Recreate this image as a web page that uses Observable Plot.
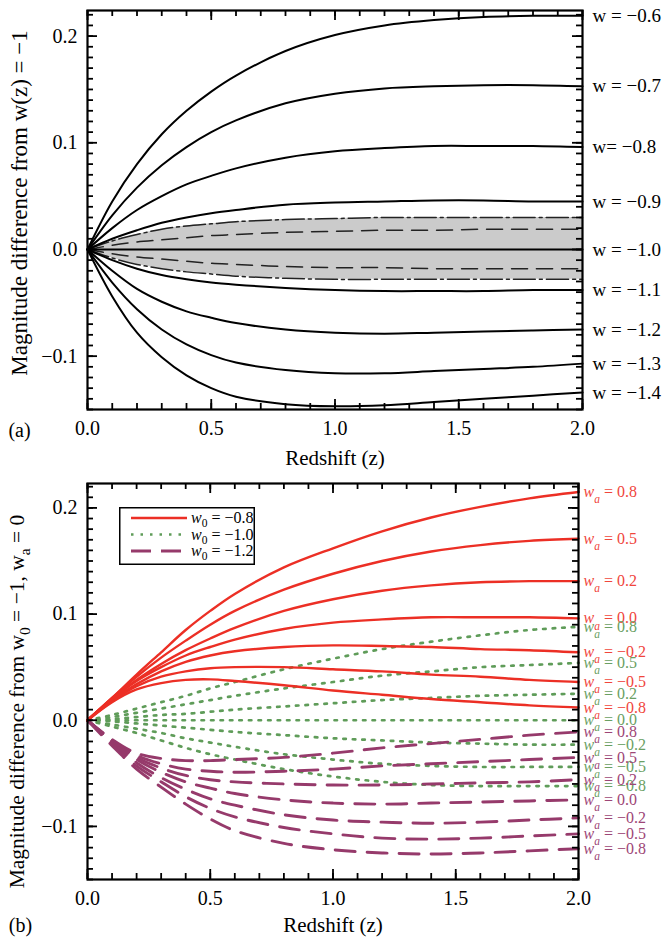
<!DOCTYPE html>
<html>
<head>
<meta charset="utf-8">
<script src="https://cdn.jsdelivr.net/npm/d3@7"></script>
<script src="https://cdn.jsdelivr.net/npm/@observablehq/plot@0.6"></script>
<style>
  body { margin: 0; background: #fff; }
  #wrap { position: relative; width: 665px; height: 938px; background: #fff; font-family: "Liberation Serif", serif; }
  #wrap svg { display: block; }
  #legend { position: absolute; left: 119px; top: 507px; }
</style>
</head>
<body>
<div id="wrap"></div>
<script>
// ---------------- shared ----------------
const redshift = [0, 0.1, 0.2, 0.3, 0.4, 0.5, 0.6, 0.8, 1.0, 1.2, 1.4, 1.6, 1.8, 2.0];
const xMajorTicks = [0, 0.5, 1.0, 1.5, 2.0];
const yMajorTicks = [-0.1, 0.0, 0.1, 0.2];

// ---------------- panel (a): constant w ----------------
const labelsA = ["w = −0.6", "w = −0.7", "w= −0.8", "w = −0.9", "w = −1.0", "w = −1.1", "w = −1.2", "w = −1.3", "w = −1.4"];
const wm06 = [0, 0.045, 0.080, 0.108, 0.130, 0.148, 0.163, 0.186, 0.201, 0.210, 0.215, 0.218, 0.219, 0.219];
const wm07 = [0, 0.032, 0.058, 0.079, 0.096, 0.110, 0.121, 0.137, 0.146, 0.151, 0.153, 0.154, 0.154, 0.153];
const wm08 = [0, 0.020, 0.037, 0.050, 0.061, 0.069, 0.076, 0.086, 0.092, 0.095, 0.097, 0.097, 0.097, 0.096];
const wm09 = [0, 0.010, 0.018, 0.025, 0.030, 0.034, 0.037, 0.042, 0.044, 0.045, 0.046, 0.046, 0.045, 0.045];
const wm10 = [0, 0, 0, 0, 0, 0, 0, 0, 0, 0, 0, 0, 0, 0];
const wm11 = [0, -0.010, -0.018, -0.024, -0.028, -0.031, -0.033, -0.036, -0.038, -0.039, -0.039, -0.039, -0.038, -0.038];
const wm12 = [0, -0.020, -0.037, -0.049, -0.058, -0.064, -0.069, -0.075, -0.078, -0.079, -0.078, -0.077, -0.076, -0.075];
const wm13 = [0, -0.031, -0.056, -0.075, -0.089, -0.099, -0.106, -0.113, -0.116, -0.116, -0.114, -0.112, -0.110, -0.107];
const wm14 = [0, -0.044, -0.078, -0.101, -0.118, -0.130, -0.138, -0.145, -0.147, -0.146, -0.143, -0.140, -0.137, -0.134];
const seriesA = [wm06, wm07, wm08, wm09, wm10, wm11, wm12, wm13, wm14];

// shaded uncertainty band (dash-dot outer edges, dashed inner lines)
const bandOuterHi = [0, 0.008, 0.014, 0.019, 0.022, 0.024, 0.026, 0.028, 0.029, 0.030, 0.030, 0.030, 0.030, 0.030];
const bandOuterLo = [0, -0.008, -0.014, -0.018, -0.021, -0.023, -0.025, -0.027, -0.028, -0.028, -0.028, -0.028, -0.028, -0.028];
const bandInnerHi = [0, 0.004, 0.007, 0.009, 0.011, 0.013, 0.014, 0.016, 0.017, 0.018, 0.018, 0.019, 0.019, 0.019];
const bandInnerLo = [0, -0.004, -0.007, -0.009, -0.011, -0.013, -0.014, -0.016, -0.017, -0.017, -0.018, -0.018, -0.018, -0.018];

// ---------------- panel (b): w0 / wa ----------------
const waLabels = ["0.8", "0.5", "0.2", "0.0", "−0.2", "−0.5", "−0.8"];
const legendLabels = ["−0.8", "−1.0", "−1.2"];
// w0 = -0.8 (red, solid)
const red08  = [0, 0.021, 0.043, 0.064, 0.085, 0.103, 0.119, 0.144, 0.162, 0.178, 0.191, 0.201, 0.209, 0.215];
const red05  = [0, 0.021, 0.041, 0.059, 0.075, 0.090, 0.103, 0.123, 0.138, 0.150, 0.159, 0.165, 0.169, 0.171];
const red02  = [0, 0.020, 0.038, 0.053, 0.066, 0.077, 0.087, 0.103, 0.114, 0.122, 0.127, 0.130, 0.131, 0.131];
const red00  = [0, 0.020, 0.037, 0.050, 0.061, 0.069, 0.076, 0.086, 0.092, 0.095, 0.097, 0.097, 0.097, 0.096];
const redm02 = [0, 0.019, 0.034, 0.046, 0.055, 0.061, 0.065, 0.069, 0.0705, 0.070, 0.069, 0.067, 0.066, 0.064];
const redm05 = [0, 0.018, 0.032, 0.041, 0.046, 0.049, 0.050, 0.050, 0.048, 0.046, 0.043, 0.041, 0.038, 0.036];
const redm08 = [0, 0.017, 0.029, 0.035, 0.038, 0.0385, 0.037, 0.033, 0.028, 0.024, 0.020, 0.017, 0.014, 0.012];
// w0 = -1.0 (green, dotted)
const grn08  = [0, 0.005, 0.011, 0.017, 0.023, 0.030, 0.036, 0.048, 0.058, 0.067, 0.074, 0.080, 0.085, 0.088];
const grn05  = [0, 0.003, 0.007, 0.011, 0.015, 0.019, 0.023, 0.030, 0.036, 0.042, 0.046, 0.050, 0.052, 0.054];
const grn02  = [0, 0.001, 0.003, 0.005, 0.006, 0.008, 0.010, 0.013, 0.016, 0.019, 0.021, 0.023, 0.024, 0.025];
const grn00  = [0, 0, 0, 0, 0, 0, 0, 0, 0, 0, 0, 0, 0, 0];
const grnm02 = [0, -0.001, -0.003, -0.005, -0.007, -0.009, -0.011, -0.014, -0.017, -0.019, -0.021, -0.022, -0.023, -0.023];
const grnm05 = [0, -0.004, -0.008, -0.012, -0.017, -0.021, -0.025, -0.032, -0.037, -0.041, -0.043, -0.044, -0.044, -0.044];
const grnm08 = [0, -0.006, -0.012, -0.019, -0.026, -0.032, -0.037, -0.046, -0.053, -0.058, -0.061, -0.062, -0.062, -0.062];
// w0 = -1.2 (purple, dashed)
const pur08  = [0, -0.018, -0.031, -0.036, -0.038, -0.038, -0.037, -0.035, -0.031, -0.026, -0.022, -0.018, -0.014, -0.011];
const pur05  = [0, -0.019, -0.033, -0.041, -0.046, -0.048, -0.049, -0.048, -0.046, -0.043, -0.041, -0.039, -0.037, -0.035];
const pur02  = [0, -0.019, -0.035, -0.045, -0.052, -0.056, -0.058, -0.060, -0.061, -0.061, -0.060, -0.059, -0.058, -0.056];
const pur00  = [0, -0.020, -0.037, -0.049, -0.058, -0.064, -0.069, -0.075, -0.078, -0.079, -0.078, -0.077, -0.076, -0.075];
const purm02 = [0, -0.021, -0.040, -0.054, -0.065, -0.074, -0.080, -0.089, -0.094, -0.096, -0.097, -0.096, -0.094, -0.092];
const purm05 = [0, -0.022, -0.043, -0.058, -0.072, -0.083, -0.091, -0.101, -0.107, -0.111, -0.112, -0.111, -0.109, -0.107];
const purm08 = [0, -0.024, -0.046, -0.063, -0.079, -0.093, -0.104, -0.116, -0.122, -0.125, -0.126, -0.125, -0.123, -0.121];

const redSeries = [red08, red05, red02, red00, redm02, redm05, redm08];
const grnSeries = [grn08, grn05, grn02, grn00, grnm02, grnm05, grnm08];
const purSeries = [pur08, pur05, pur02, pur00, purm02, purm05, purm08];

// ---------------- styles ----------------
const FONT = "Liberation Serif, Times New Roman, serif";
const RED = "#ec2f25", GREEN = "#5f9c59", PURPLE = "#963a6b";
const RED_T = "#f0463c", GREEN_T = "#6a9f63", PURPLE_T = "#9d4676";

function rowsOf(list, keys) {
  const rows = [];
  list.forEach((arr, i) => arr.forEach((v, j) => rows.push({z: redshift[j], dm: v, key: keys[i]})));
  return rows;
}
function endsOf(list, labels, prefix) {
  return list.map((arr, i) => ({z: redshift[redshift.length - 1], dm: arr[arr.length - 1], label: prefix + labels[i]}));
}

function frameTicks(innerW, innerH) {
  const xMinor = d3.range(0, 2.0001, 0.1);
  const yMinor = d3.range(-0.15, 0.2241, 0.01).map(v => Math.round(v * 100) / 100);
  const s = {stroke: "black", strokeWidth: 1.8};
  return [
    Plot.tickX(xMinor, {x: d => d, insetTop: innerH - 6, ...s}),
    Plot.tickX(xMajorTicks, {x: d => d, insetTop: innerH - 10, ...s}),
    Plot.tickX(xMinor, {x: d => d, insetBottom: innerH - 6, ...s}),
    Plot.tickX(xMajorTicks, {x: d => d, insetBottom: innerH - 10, ...s}),
    Plot.tickY(yMinor, {y: d => d, insetRight: innerW - 6, ...s}),
    Plot.tickY(yMajorTicks, {y: d => d, insetRight: innerW - 10, ...s}),
    Plot.tickY(yMinor, {y: d => d, insetLeft: innerW - 6, ...s}),
    Plot.tickY(yMajorTicks, {y: d => d, insetLeft: innerW - 10, ...s}),
    Plot.frame({stroke: "black", strokeWidth: 2.2}),
    Plot.axisX(xMajorTicks, {anchor: "bottom", tickSize: 0, tickPadding: 11, tickFormat: d3.format(".1f"), label: null}),
    Plot.axisY(yMajorTicks, {anchor: "left", tickSize: 0, tickPadding: 10, tickFormat: d3.format(".1f"), label: null})
  ];
}

function addSubscripts(svg) {
  d3.select(svg).selectAll("text").each(function () {
    const s = this.textContent;
    if (!/w_\w/.test(s)) return;
    const upright = s.startsWith("Magnitude");
    const fs = parseFloat(getComputedStyle(this).fontSize) || 16;
    const shift = fs * (upright ? 0.28 : 0.38);
    const t = d3.select(this);
    t.text(null);
    let pending = 0;
    s.split(/(w_\w)/).forEach(p => {
      if (!p) return;
      const m = /^w_(\w)$/.exec(p);
      if (m) {
        t.append("tspan").attr("font-style", upright ? null : "italic").attr("dy", pending || null).text("w");
        t.append("tspan").attr("font-style", upright ? null : "italic").attr("font-size", fs * 0.72).attr("dy", shift).text(m[1]);
        pending = -shift;
      } else {
        t.append("tspan").attr("dy", pending || null).text(p);
        pending = 0;
      }
    });
  });
}

const centered = {textAnchor: "middle", lineAnchor: "middle"};

// ---------------- panel (a) ----------------
{
  const W = 665, H = 470, mt = 10, mb = 61, ml = 87, mr = 83;
  const innerW = W - ml - mr, innerH = H - mt - mb;
  const band = redshift.map((z, j) => ({z, lo: bandOuterLo[j], hi: bandOuterHi[j]}));
  const outer = rowsOf([bandOuterHi, bandOuterLo], ["hi", "lo"]);
  const inner = rowsOf([bandInnerHi, bandInnerLo], ["hi", "lo"]);
  const curves = rowsOf(seriesA, labelsA);
  const ends = endsOf(seriesA, labelsA, "");
  const plotA = Plot.plot({
    width: W, height: H, marginTop: mt, marginBottom: mb, marginLeft: ml, marginRight: mr,
    x: {domain: [0, 2]},
    y: {domain: [-0.15, 0.224]},
    style: {fontFamily: FONT, fontSize: "20px", color: "black", background: "white", overflow: "visible"},
    marks: [
      Plot.areaY(band, {x: "z", y1: "lo", y2: "hi", fill: "#cbcbcb", curve: "catmull-rom"}),
      Plot.line(outer, {x: "z", y: "dm", z: "key", stroke: "#222", strokeWidth: 1.5, strokeDasharray: "22,4,3,4", curve: "catmull-rom"}),
      Plot.line(inner, {x: "z", y: "dm", z: "key", stroke: "#222", strokeWidth: 1.5, strokeDasharray: "16,9", curve: "catmull-rom"}),
      Plot.line(curves, {x: "z", y: "dm", z: "key", stroke: "black", strokeWidth: 2, curve: "catmull-rom"}),
      ...frameTicks(innerW, innerH),
      Plot.text(ends, {x: "z", y: "dm", text: "label", textAnchor: "start", dx: 10, fontSize: 19}),
      Plot.text(["Magnitude difference from w(z) = −1"], {frameAnchor: "left", rotate: -90, dx: -68, dy: -7, fontSize: 23, ...centered}),
      Plot.text(["Redshift (z)"], {frameAnchor: "bottom", dy: 49, fontSize: 21, ...centered}),
      Plot.text(["(a)"], {frameAnchor: "bottom-left", dx: -68, dy: 21, fontSize: 20, ...centered})
    ]
  });
  document.getElementById("wrap").append(plotA);
}

// ---------------- panel (b) ----------------
{
  const W = 665, H = 468, mt = 13, mb = 59, ml = 87, mr = 87;
  const innerW = W - ml - mr, innerH = H - mt - mb;
  const plotB = Plot.plot({
    width: W, height: H, marginTop: mt, marginBottom: mb, marginLeft: ml, marginRight: mr,
    x: {domain: [0, 2]},
    y: {domain: [-0.15, 0.223]},
    style: {fontFamily: FONT, fontSize: "20px", color: "black", background: "white", overflow: "visible"},
    marks: [
      Plot.line(rowsOf(grnSeries, waLabels), {x: "z", y: "dm", z: "key", stroke: GREEN, strokeWidth: 2.7, strokeDasharray: "2.5,7", curve: "catmull-rom"}),
      Plot.line(rowsOf(purSeries, waLabels), {x: "z", y: "dm", z: "key", stroke: PURPLE, strokeWidth: 2.9, strokeDasharray: "20,12", curve: "catmull-rom"}),
      Plot.line(rowsOf(redSeries, waLabels), {x: "z", y: "dm", z: "key", stroke: RED, strokeWidth: 2.4, curve: "catmull-rom"}),
      ...frameTicks(innerW, innerH),
      Plot.text(endsOf(redSeries, waLabels, "w_a = "), {x: "z", y: "dm", text: "label", textAnchor: "start", dx: 5, fontSize: 16, fill: RED_T}),
      Plot.text(endsOf(grnSeries, waLabels, "w_a = "), {x: "z", y: "dm", text: "label", textAnchor: "start", dx: 5, fontSize: 16, fill: GREEN_T}),
      Plot.text(endsOf(purSeries, waLabels, "w_a = "), {x: "z", y: "dm", text: "label", textAnchor: "start", dx: 5, fontSize: 16, fill: PURPLE_T}),
      Plot.text(["Magnitude difference from w_0 = −1, w_a = 0"], {frameAnchor: "left", rotate: -90, dx: -70, dy: 20, fontSize: 21.5, ...centered}),
      Plot.text(["Redshift (z)"], {frameAnchor: "bottom", dy: 46, fontSize: 21, ...centered}),
      Plot.text(["(b)"], {frameAnchor: "bottom-left", dx: -67, dy: 46, fontSize: 20, ...centered})
    ]
  });
  document.getElementById("wrap").append(plotB);
  addSubscripts(plotB);

  // legend (inside panel b)
  const legendColors = [RED, GREEN, PURPLE];
  const legendDash = [null, "2.5,7", "20,10"];
  const legendWidth = [2.4, 2.7, 2.9];
  const lg = d3.select("#wrap").append("svg").attr("id", "legend").attr("width", 136).attr("height", 58)
    .style("font-family", FONT).style("font-size", "16px");
  lg.append("rect").attr("x", 0.75).attr("y", 0.75).attr("width", 134.5).attr("height", 56.5)
    .attr("fill", "white").attr("stroke", "black").attr("stroke-width", 1.5);
  legendLabels.forEach((lab, i) => {
    const y = 11 + i * 16.5;
    lg.append("line").attr("x1", 12).attr("x2", 68).attr("y1", y).attr("y2", y)
      .attr("stroke", legendColors[i]).attr("stroke-width", legendWidth[i]).attr("stroke-dasharray", legendDash[i]);
    const t = lg.append("text").attr("x", 72).attr("y", y + 5);
    t.append("tspan").attr("font-style", "italic").text("w");
    t.append("tspan").attr("font-size", 11.5).attr("dy", 4).text("0");
    t.append("tspan").attr("dy", -4).text(" = " + lab);
  });
}
</script>
</body>
</html>
